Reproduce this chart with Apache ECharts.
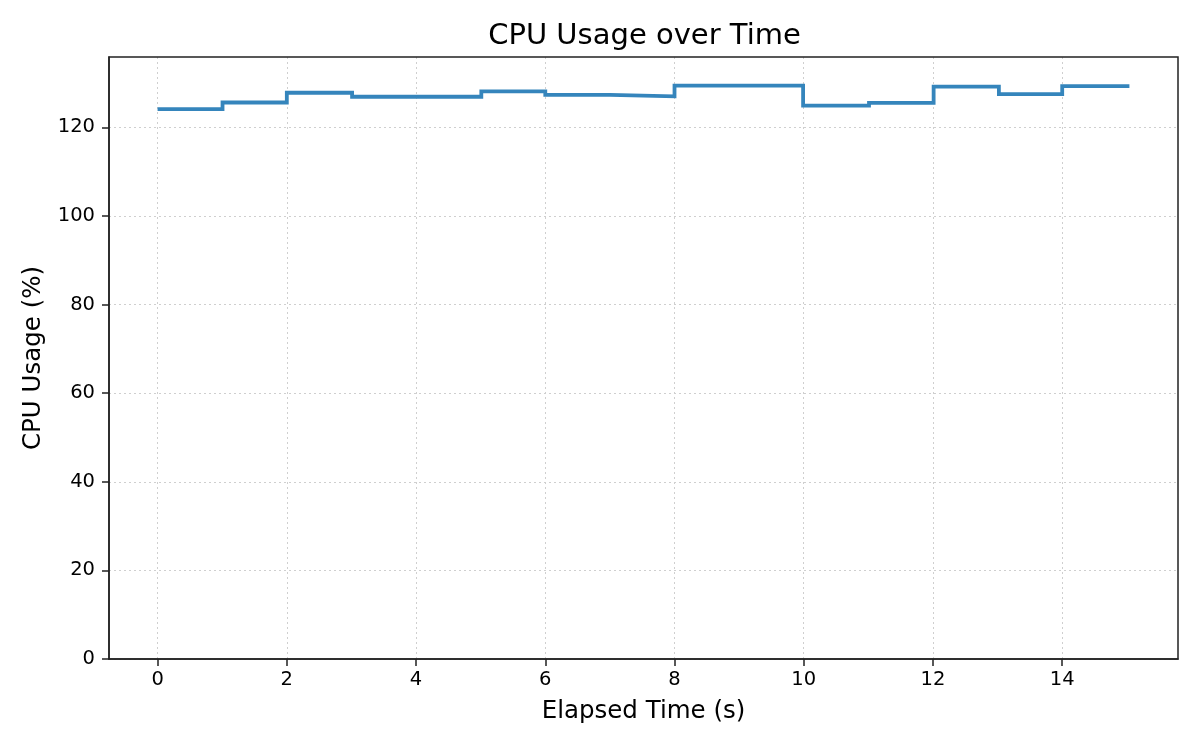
<!DOCTYPE html>
<html>
<head>
<meta charset="utf-8">
<title>CPU Usage over Time</title>
<script src="https://cdn.jsdelivr.net/npm/echarts@6/dist/echarts.min.js"></script>
<style>
  html, body { margin: 0; padding: 0; background: #fff; }
  #chart { width: 1200px; height: 750px; }
</style>
</head>
<body>
<div id="chart"></div>
<script>
// sample times (s) and cpu usage (%)
var elapsed = [0, 1.005, 2.0, 3.01, 4.01, 5.01, 6.0, 7.0, 8.0, 9.0, 9.99, 11.01, 12.01, 13.02, 14.0, 15.04];
var cpuUsage = [124.1, 125.6, 127.8, 126.9, 126.9, 128.1, 127.3, 127.0, 129.4, 129.4, 124.9, 125.5, 129.2, 127.5, 129.3, 129.3];
var xTicks = [0, 2, 4, 6, 8, 10, 12, 14];
var yTicks = [0, 20, 40, 60, 80, 100, 120];

var font = 'DejaVu Sans';
var points = [];
for (var i = 0; i < elapsed.length; i++) {
  points.push([elapsed[i], cpuUsage[i]]);
}

var xSpan = elapsed[elapsed.length - 1] - elapsed[0];
var yTop = Math.max.apply(null, cpuUsage) * 1.05;

var gridLeft = 109, gridRight = 22;
var chart = echarts.init(document.getElementById('chart'));
var option = {
  animation: false,
  backgroundColor: '#fff',
  title: {
    text: 'CPU Usage over Time',
    // centred over the plot area, like matplotlib
    left: gridLeft + (1200 - gridLeft - gridRight) / 2 - 4,
    textAlign: 'center',
    top: 17,
    textStyle: { fontFamily: font, fontSize: 29, fontWeight: 'normal', color: '#000' }
  },
  grid: { left: gridLeft, right: gridRight, top: 57, bottom: 91, containLabel: false },
  xAxis: {
    type: 'value',
    min: elapsed[0] - 0.05 * xSpan,
    max: elapsed[elapsed.length - 1] + 0.05 * xSpan,
    name: 'Elapsed Time (s)',
    nameLocation: 'middle',
    nameGap: 40,
    nameTextStyle: { fontFamily: font, fontSize: 24.5, color: '#000' },
    axisLine: { onZero: false, lineStyle: { color: '#222', width: 1.5 } },
    axisTick: { show: true, length: 7, customValues: xTicks, lineStyle: { color: '#222', width: 1.5 } },
    axisLabel: { customValues: xTicks, margin: 11, fontFamily: font, fontSize: 19.5, color: '#000' },
    splitLine: { show: true, lineStyle: { color: '#cfcfcf', type: [2, 3], width: 1 } }
  },
  yAxis: {
    type: 'value',
    min: 0,
    max: yTop,
    name: 'CPU Usage (%)',
    nameLocation: 'middle',
    nameGap: 63,
    nameTextStyle: { fontFamily: font, fontSize: 24.5, color: '#000' },
    axisLine: { show: true, onZero: false, lineStyle: { color: '#222', width: 1.5 } },
    axisTick: { show: true, length: 7, customValues: yTicks, lineStyle: { color: '#222', width: 1.5 } },
    axisLabel: { customValues: yTicks, margin: 14, fontFamily: font, fontSize: 19.5, color: '#000' },
    splitLine: { show: true, lineStyle: { color: '#cfcfcf', type: [2, 3], width: 1 } }
  },
  series: [
    {
      type: 'line',
      step: 'end',
      data: points,
      showSymbol: false,
      symbol: 'none',
      lineStyle: { color: '#3585bc', width: 3.8, cap: 'butt', join: 'miter' }
    }
  ]
};
chart.setOption(option);

// matplotlib-style frame on the top and right
var rect = chart.getModel().getComponent('grid').coordinateSystem.getRect();
chart.setOption({
  graphic: [{
    type: 'rect',
    shape: { x: rect.x, y: rect.y, width: rect.width, height: rect.height },
    style: { fill: 'none', stroke: '#222', lineWidth: 1.5 },
    silent: true,
    z: 10
  }]
});
</script>
</body>
</html>
